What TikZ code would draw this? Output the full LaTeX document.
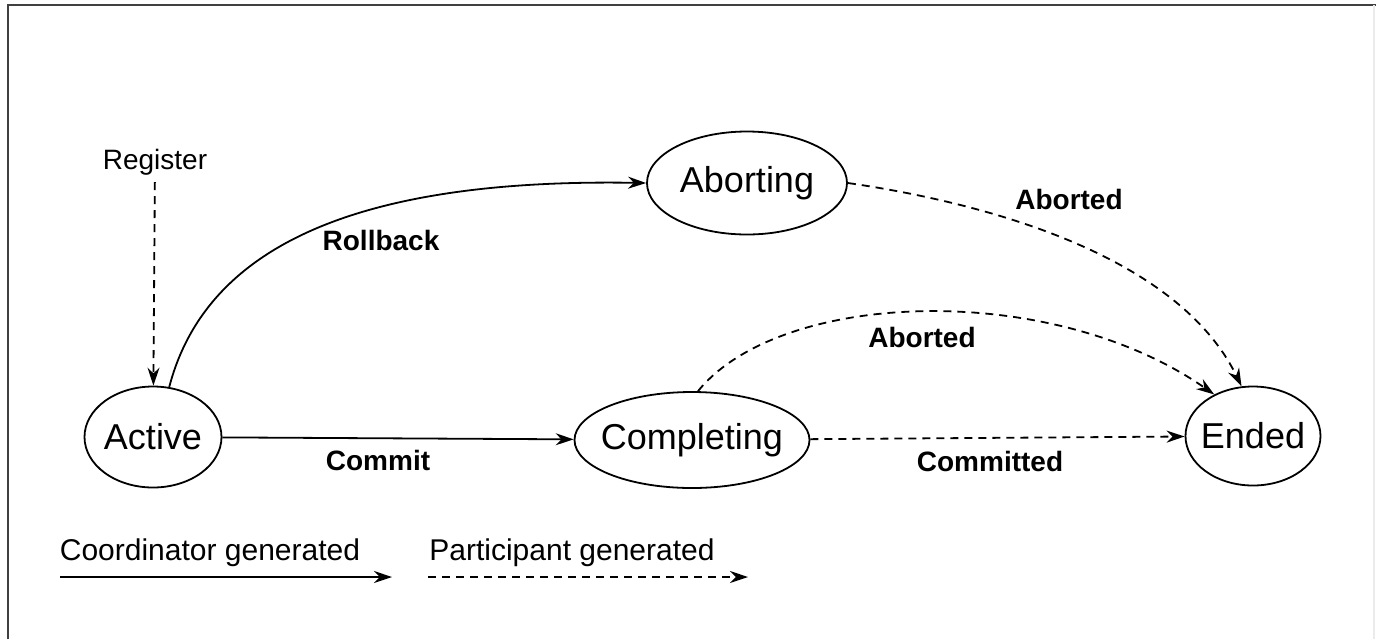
\documentclass[tikz,border=0pt]{standalone}
\usepackage{fontspec}
\setmainfont{Liberation Sans}
\usetikzlibrary{arrows.meta, shapes.geometric}

\begin{document}
\begin{tikzpicture}[
    x=0.5pt, y=-0.5pt,
    state/.style={ellipse, draw, line width=0.9pt, inner xsep=-4pt, inner ysep=0pt, font=\fontsize{18}{20}\selectfont},
    lbl/.style={font=\fontsize{14}{16}\selectfont\bfseries},
    note/.style={font=\fontsize{15}{17}\selectfont},
    arrow/.style={-{Stealth[length=9pt,width=6pt]}, line width=0.9pt},
    dasharrow/.style={arrow, dash pattern=on 4pt off 3pt}
]
\useasboundingbox (0,0) rectangle (1382,639);

% frame
\draw[line width=1.2pt, black!75] (8,639) -- (8,5) -- (1376,5);
\draw[line width=0.6pt, black!8] (1374,5) -- (1374,639);

% states
\node[state, minimum width=137*0.5pt, minimum height=101*0.5pt] (active) at (153,437) {Active};
\node[state, minimum width=235*0.5pt, minimum height=96*0.5pt] (completing) at (692,440) {Completing};
\node[state, minimum width=200*0.5pt, minimum height=103*0.5pt] (aborting) at (747,183) {Aborting};
\node[state, minimum width=135*0.5pt, minimum height=99*0.5pt] (ended) at (1253,436) {Ended};

% register
\node[note, font=\fontsize{14}{16}\selectfont] (register) at (155,162) {Register};
\draw[dasharrow] (register) -- (active);

% coordinator transitions
\draw[arrow] (active.72) .. controls (205,250) and (350,178) .. (aborting.west);
\node[lbl] (rollback) at (381,240) {Rollback};
\draw[arrow] (active) -- (completing);
\node[lbl] (commit) at (378,460) {Commit};

% participant transitions
\draw[dasharrow] (completing) -- (ended);
\node[lbl] (committed) at (990,461) {Committed};
\draw[dasharrow] (completing.83) .. controls (780,290) and (1050,280) .. (ended.133);
\node[lbl] (aborted1) at (922,337) {Aborted};
\draw[dasharrow] (aborting.east) .. controls (1000,205) and (1180,260) .. (ended.103);
\node[lbl] (aborted2) at (1069,199) {Aborted};

% legend
\node[note] (coord) at (210,553) {Coordinator generated};
\coordinate (coordA) at (60,577);
\coordinate (coordB) at (392,577);
\draw[arrow] (coordA) -- (coordB);
\node[note] (part) at (572,553) {Participant generated};
\coordinate (partA) at (428,577);
\coordinate (partB) at (748,577);
\draw[dasharrow] (partA) -- (partB);

\end{tikzpicture}
\end{document}
